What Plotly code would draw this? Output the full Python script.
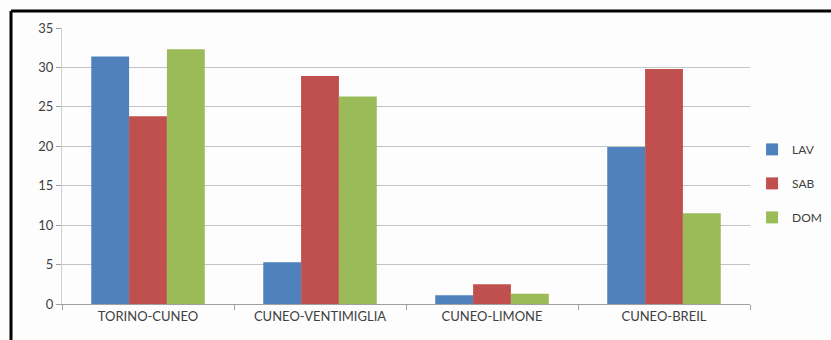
import plotly.graph_objects as go

categories = ["TORINO-CUNEO", "CUNEO-VENTIMIGLIA", "CUNEO-LIMONE", "CUNEO-BREIL"]
lav = [31.4, 5.3, 1.1, 19.9]
sab = [23.8, 28.9, 2.5, 29.8]
dom = [32.3, 26.3, 1.3, 11.5]
series_names = ["LAV", "SAB", "DOM"]
colors = ["#4F81BD", "#C0504D", "#9BBB59"]
y_ticks = [0, 5, 10, 15, 20, 25, 30, 35]

fig = go.Figure()
for name, vals, col in zip(series_names, [lav, sab, dom], colors):
    fig.add_trace(go.Bar(x=categories, y=vals, name=name, marker_color=col,
                         marker_line_width=0, legendgroup=name))

font_family = "Lato, 'Open Sans', sans-serif"
fig.update_layout(
    width=831, height=340,
    margin=dict(l=62, r=81, t=28, b=36, autoexpand=False),
    paper_bgcolor="#fdfdfd", plot_bgcolor="#fdfdfd",
    barmode="group", bargap=0.34, bargroupgap=0,
    font=dict(family=font_family, size=12, color="#404040"),
    showlegend=True,
    legend=dict(x=1.003, y=0.437, xanchor="left", yanchor="middle",
                font=dict(size=12, color="#404040"), tracegroupgap=15,
                itemwidth=30, bgcolor="rgba(0,0,0,0)"),
    xaxis=dict(showline=True, linecolor="#a0a0a0", linewidth=1,
               ticks="outside", tickson="boundaries", ticklen=5, tickcolor="#a0a0a0",
               tickfont=dict(size=13, color="#404040"), showgrid=False),
    yaxis=dict(range=[0, 35], tickvals=y_ticks, showline=True, linecolor="#d0d0d0",
               linewidth=1, ticks="outside", ticklen=5, tickcolor="#a0a0a0",
               gridcolor="#c4c4c4", gridwidth=1, zeroline=False,
               tickfont=dict(size=13, color="#404040")),
)

x0 = (11 - 62) / 688
ytop = (304 - 11) / 276
ybot = (304 - 345) / 276
fig.add_shape(type="line", xref="paper", yref="paper", x0=x0, x1=1.2, y0=ytop, y1=ytop,
              line=dict(color="black", width=3))
fig.add_shape(type="line", xref="paper", yref="paper", x0=x0, x1=x0, y0=ytop, y1=ybot,
              line=dict(color="black", width=3))

fig.write_html("out.html")
